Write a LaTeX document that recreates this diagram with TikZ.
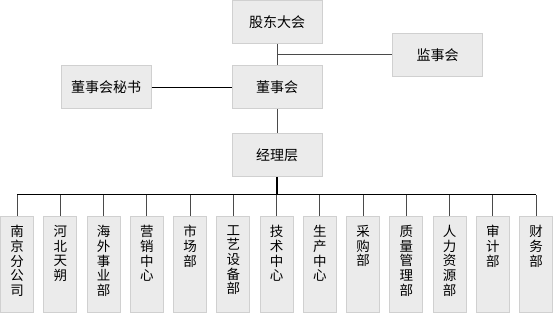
\documentclass[tikz,border=0pt]{standalone}
\usepackage{fontspec}
\setmainfont{Noto Sans CJK SC}
\usepackage{tikz}
\usetikzlibrary{positioning,calc}
\definecolor{BF}{HTML}{EBEBEB}
\definecolor{BE}{HTML}{D0D0D0}
\definecolor{LN}{HTML}{4A4A4A}

\tikzset{
  topbox/.style={draw=BE, fill=BF, line width=1pt,
                 minimum width=90pt, minimum height=43pt, inner sep=0pt,
                 font=\fontsize{14}{16}\selectfont},
  deptbox/.style={draw=BE, fill=BF, line width=1pt,
                  minimum width=33pt, minimum height=95pt, inner sep=0pt,
                  font=\fontsize{13.5}{14.6}\selectfont},
  link/.style={draw=LN, line width=1pt}
}

\begin{document}
\begin{tikzpicture}[x=1pt,y=-1pt]
    \useasboundingbox (0,0) rectangle (554,315);
    % upper column
    \node[topbox] (gd)  at (277,22.5)  {股东大会};
    \node[topbox] (dsh) at (277,87.5)  {董事会};
    \node[topbox] (jl)  at (277,155)   {经理层};
    \node[topbox] (jsh) at (437.5,55)  {监事会};
    \node[topbox] (ms)  at (106,87.5)  {董事会秘书};
    \draw[link] (gd) -- (dsh);
    \draw[link] (gd.south |- jsh.west) -- (jsh.west);
    \draw[link, draw=black] (ms) -- (dsh);
    \draw[link] (dsh) -- (jl);
    % departments
    \foreach \t [count=\i] in {南\\京\\分\\公\\司, 河\\北\\天\\朔,
        海\\外\\事\\业\\部, 营\\销\\中\\心, 市\\场\\部,
        工\\艺\\设\\备\\部, 技\\术\\中\\心, 生\\产\\中\\心,
        采\\购\\部, 质\\量\\管\\理\\部, 人\\力\\资\\源\\部,
        审\\计\\部, 财\\务\\部}
      \node[deptbox] (d\i) at ({17+43.25*(\i-1)},264.5)
        {\parbox[t][78pt][t]{15pt}{\centering\t}};
    \coordinate (bus) at (277,195);
    \draw[line width=2pt] (jl.south) -- (bus);
    \draw[line width=1pt] (d1.north |- bus) -- (d13.north |- bus);
    \foreach \i in {1,...,13}
      \draw[link] (d\i.north |- bus) -- (d\i.north);
\end{tikzpicture}
\end{document}
